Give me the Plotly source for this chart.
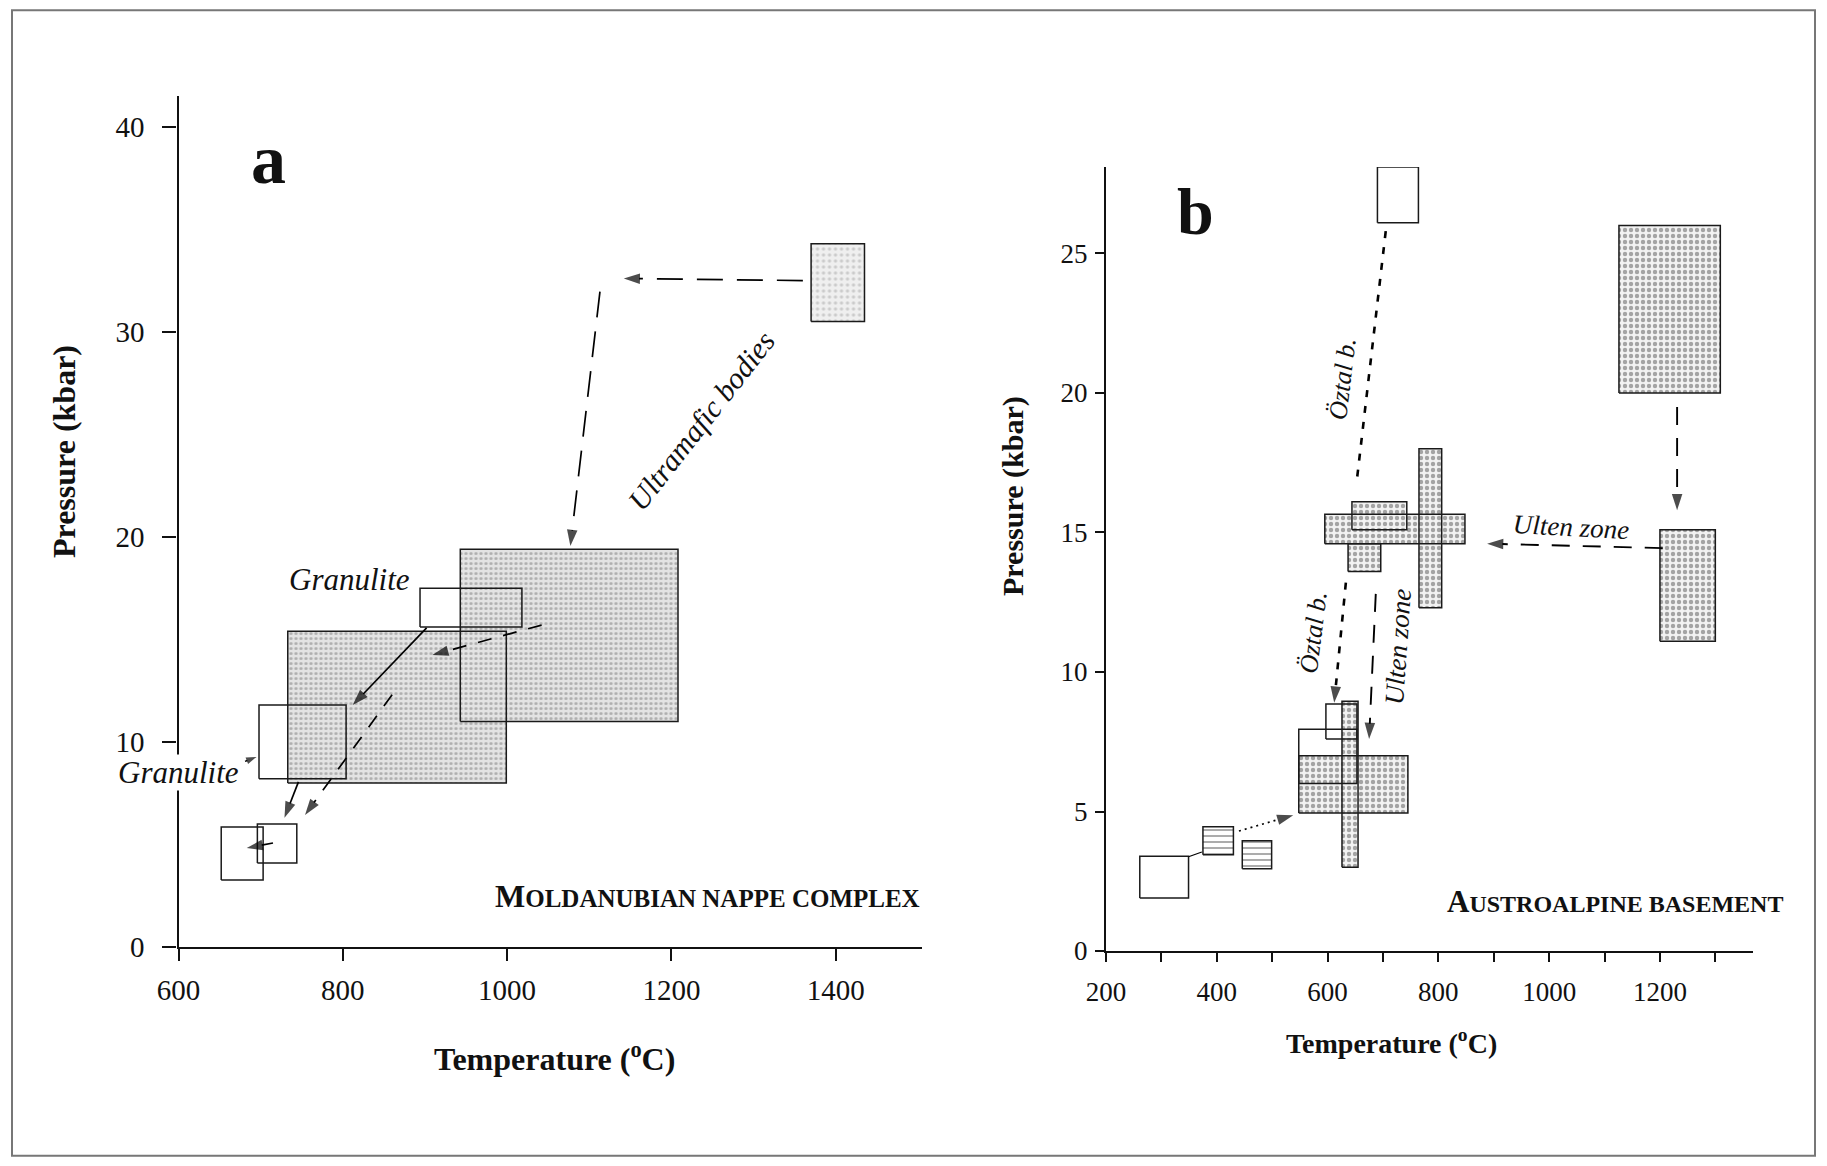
import plotly.graph_objects as go

# ---------------- DATA ----------------
# Panel a : Moldanubian nappe complex  (T in degC, P in kbar)
a_box_T0 = [1370, 943, 733, 894, 698, 652, 696]
a_box_T1 = [1435, 1208, 999, 1018, 804, 703, 744]
a_box_P0 = [30.5, 11.0, 8.0, 15.6, 8.2, 3.27, 4.1]
a_box_P1 = [34.3, 19.4, 15.4, 17.5, 11.8, 5.85, 6.0]
a_box_fill = ["light", "stipple", "stipple", "none", "none", "none", "none"]

# P-T path arrows of panel a (start -> tip)
a_arr_T0 = [1360, 1113, 902, 1042, 860, 746, 715, 681]
a_arr_P0 = [32.5, 31.96, 15.56, 15.7, 12.3, 8.05, 5.07, 9.05]
a_arr_T1 = [1142, 1077, 812, 909, 754, 729, 683, 695]
a_arr_P1 = [32.6, 19.56, 11.8, 14.24, 6.44, 6.3, 4.83, 9.27]
a_arr_kind = ["long", "long", "solid", "mid", "mid", "solid", "solid", "small"]

# Panel b : Austroalpine basement
b_box_T0 = [690, 1126, 1200, 595, 644, 637, 765, 548, 548, 597, 626, 375, 446, 261]
b_box_T1 = [764, 1309, 1300, 848, 743, 696, 806, 745, 653, 653, 655, 430, 499, 349]
b_box_P0 = [26.1, 20.0, 11.1, 14.6, 15.1, 13.6, 12.3, 4.95, 6.0, 7.6, 3.0, 3.45, 2.95, 1.9]
b_box_P1 = [28.1, 26.0, 15.1, 15.65, 16.1, 14.6, 18.0, 7.0, 7.95, 8.85, 8.95, 4.45, 3.95, 3.4]
b_box_fill = ["none", "stipple", "stipple", "stipple", "stipple", "stipple", "stipple",
              "stipple", "none", "none", "stipple", "lines", "lines", "none"]

b_arr_T0 = [705, 633, 687, 1205, 1231, 440, 349]
b_arr_P0 = [25.8, 13.2, 12.8, 14.44, 19.5, 4.3, 3.38]
b_arr_T1 = [653, 612, 675, 888, 1231, 538, 373]
b_arr_P1 = [16.9, 8.9, 7.6, 14.6, 15.8, 4.87, 3.55]
b_arr_kind = ["oztal_nohead", "oztal", "ulten", "ulten", "ulten", "dot", "thin"]

a_xticks = [600, 800, 1000, 1200, 1400]
a_yticks = [0, 10, 20, 30, 40]
b_xticks = [200, 400, 600, 800, 1000, 1200]
b_yticks = [0, 5, 10, 15, 20, 25]

# ---------------- FIGURE ----------------
# the page body has an 8px margin: size the figure so it fits the window
OFF = 8
W, H = 1827 - 2 * OFF, 1166 - 2 * OFF
FONT = "Liberation Serif"


def px(x):
    return (x - OFF) / W


def py(y):
    return 1 - (y - OFF) / H


fig = go.Figure()

fills_a = {
    "light": dict(pattern=dict(shape=".", size=6, solidity=0.25, fgcolor="#a8a8a8", bgcolor="#efefef")),
    "stipple": dict(pattern=dict(shape=".", size=5, solidity=0.33, fgcolor="#7a7a7a", bgcolor="#e3e3e3")),
}
fills_b = {
    "stipple": dict(pattern=dict(shape=".", size=6, solidity=0.42, fgcolor="#555555", bgcolor="#f2f2f2")),
    "lines": dict(pattern=dict(shape="-", size=6, solidity=0.25, fgcolor="#222222", bgcolor="#ffffff")),
}


def rect(t0, t1, p0, p1):
    return [t0, t1, t1, t0, t0], [p0, p0, p1, p1, p0]


def add_boxes(T0, T1, P0, P1, kinds, xa, ya, styles, lw):
    for t0, t1, p0, p1, k in zip(T0, T1, P0, P1, kinds):
        if k == "none":
            continue
        xs, ys = rect(t0, t1, p0, p1)
        st = styles[k]
        fig.add_trace(go.Scatter(x=xs, y=ys, xaxis=xa, yaxis=ya, mode="lines",
                                 fill="toself", fillcolor=st["pattern"]["bgcolor"],
                                 fillpattern=st["pattern"], line=dict(width=0),
                                 hoverinfo="skip", showlegend=False))
    for t0, t1, p0, p1, k in zip(T0, T1, P0, P1, kinds):
        xs, ys = rect(t0, t1, p0, p1)
        fig.add_trace(go.Scatter(x=xs, y=ys, xaxis=xa, yaxis=ya, mode="lines",
                                 line=dict(color="#1a1a1a", width=lw),
                                 hoverinfo="skip", showlegend=False))


dash_styles = {
    "long": dict(dash="26px,14px", width=1.7, head=17),
    "mid": dict(dash="14px,12px", width=1.7, head=17),
    "solid": dict(dash="solid", width=1.7, head=17),
    "small": dict(dash="solid", width=1.5, head=11),
    "oztal": dict(dash="7px,9px", width=2.6, head=17),
    "oztal_nohead": dict(dash="7px,9px", width=2.6, head=0),
    "ulten": dict(dash="18px,13px", width=1.9, head=17),
    "dot": dict(dash="2px,4px", width=1.7, head=17),
    "thin": dict(dash="solid", width=1.2, head=0),
}


def add_arrows(T0, P0, T1, P1, kinds, xa, ya):
    for t0, p0, t1, p1, k in zip(T0, P0, T1, P1, kinds):
        st = dash_styles[k]
        fig.add_trace(go.Scatter(
            x=[t0, t1], y=[p0, p1], xaxis=xa, yaxis=ya,
            mode="lines+markers",
            line=dict(color="#000000", width=st["width"], dash=st["dash"]),
            marker=dict(symbol="arrow", size=[0, st["head"]], angleref="previous",
                        color="#000000", line=dict(width=0)),
            hoverinfo="skip", showlegend=False))


add_boxes(a_box_T0, a_box_T1, a_box_P0, a_box_P1, a_box_fill, "x", "y", fills_a, 1.5)
add_arrows(a_arr_T0, a_arr_P0, a_arr_T1, a_arr_P1, a_arr_kind, "x", "y")
add_boxes(b_box_T0, b_box_T1, b_box_P0, b_box_P1, b_box_fill, "x2", "y2", fills_b, 1.5)
add_arrows(b_arr_T0, b_arr_P0, b_arr_T1, b_arr_P1, b_arr_kind, "x2", "y2")

ax_common = dict(showline=True, linecolor="#111111", linewidth=2.2, ticks="outside",
                 tickcolor="#111111", tickwidth=1.6, showgrid=False, zeroline=False,
                 automargin=False, mirror=False)

fig.update_layout(
    width=W, height=H, margin=dict(l=0, r=0, t=0, b=0),
    paper_bgcolor="white", plot_bgcolor="white", showlegend=False,
    font=dict(family=FONT, color="#111111"),
    xaxis=dict(ax_common, domain=[px(178.5), px(922)], range=[600, 1505],
               tickvals=a_xticks, ticklen=12, anchor="y",
               tickfont=dict(size=29, family=FONT), ticklabelstandoff=4),
    yaxis=dict(ax_common, domain=[py(947), py(96)], range=[0, 41.5],
               tickvals=a_yticks, ticklen=14, anchor="x",
               tickfont=dict(size=29, family=FONT), ticklabelstandoff=12),
    xaxis2=dict(ax_common, domain=[px(1106), px(1753)], range=[200, 1368],
                tickvals=b_xticks, ticklen=9, anchor="y2",
                minor=dict(ticks="outside", dtick=100, tick0=200, ticklen=9,
                           tickwidth=1.6, tickcolor="#111111"),
                tickfont=dict(size=27, family=FONT), ticklabelstandoff=6),
    yaxis2=dict(ax_common, domain=[py(951), py(167)], range=[0, 28.1],
                tickvals=b_yticks, ticklen=9, anchor="x2",
                tickfont=dict(size=27, family=FONT), ticklabelstandoff=2),
)

ann = []


def label(text, x, y, xref, yref, size, angle=0, xanchor="center", bg=None, italic=False, bold=False):
    t = text
    if italic:
        t = "<i>" + t + "</i>"
    if bold:
        t = "<b>" + t + "</b>"
    d = dict(text=t, x=x, y=y, xref=xref, yref=yref, showarrow=False, textangle=angle,
             xanchor=xanchor, yanchor="middle", font=dict(family=FONT, size=size, color="#111111"))
    if bg:
        d["bgcolor"] = bg
        d["borderpad"] = 0
    ann.append(d)


# panel a texts
label("a", 709, 38.4, "x", "y", 70, bold=True)
label("Granulite", 808, 17.9, "x", "y", 31, italic=True)
label("Granulite", px(178), py(772), "paper", "paper", 31, italic=True, bg="white")
label("Ultramafic bodies", 1236, 25.7, "x", "y", 30, angle=-52, italic=True)
label("<span style='font-size:32px'>M</span>OLDANUBIAN NAPPE COMPLEX", px(922), py(896),
      "paper", "paper", 25, xanchor="right", bold=True)
# panel b texts
label("b", 362, 26.5, "x2", "y2", 66, bold=True)
label("Öztal b.", 626, 20.5, "x2", "y2", 26, angle=-83, italic=True)
label("Öztal b.", 575, 11.4, "x2", "y2", 26, angle=-83, italic=True)
label("Ulten zone", 727, 10.9, "x2", "y2", 27, angle=-86, italic=True)
label("Ulten zone", 1039, 15.2, "x2", "y2", 27, angle=3, italic=True)
label("<span style='font-size:31px'>A</span>USTROALPINE BASEMENT", px(1785), py(901),
      "paper", "paper", 24, xanchor="right", bold=True)

# axis titles (paper coordinates)
label("Temperature (<sup>o</sup>C)", px(554), py(1057), "paper", "paper", 32, bold=True)
label("Pressure (kbar)", px(64), py(452), "paper", "paper", 32, angle=-90, bold=True)
label("Temperature (<sup>o</sup>C)", px(1391), py(1041), "paper", "paper", 28, bold=True)
label("Pressure (kbar)", px(1013), py(496), "paper", "paper", 30, angle=-90, bold=True)

fig.update_layout(annotations=ann)

# outer frame
fig.add_shape(type="rect", xref="paper", yref="paper", x0=px(12), x1=px(1815),
              y0=0.002, y1=0.998, line=dict(color="#777777", width=2),
              fillcolor="rgba(0,0,0,0)", layer="below")

fig.write_html("out.html")
